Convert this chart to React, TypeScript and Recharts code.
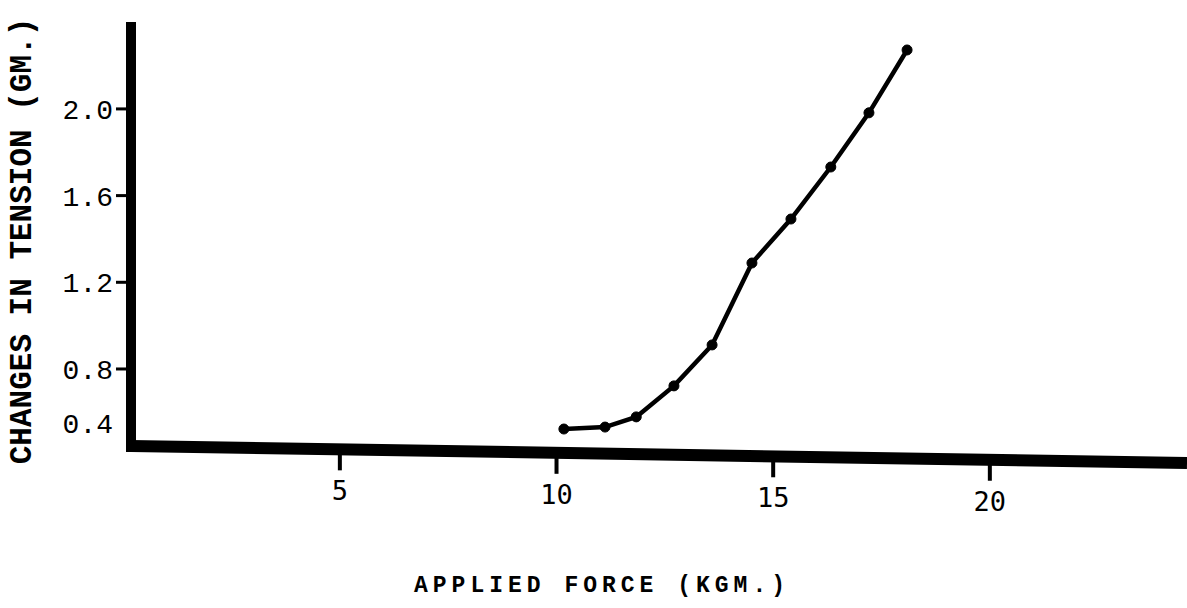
import React from 'react';
import { LineChart, Line, XAxis, YAxis, ReferenceLine } from 'recharts';

const forceKgm = [10.17, 11.12, 11.84, 12.71, 13.59, 14.51, 15.41, 16.33, 17.21, 18.09];
const tensionGm = [0.523, 0.532, 0.579, 0.722, 0.911, 1.289, 1.492, 1.732, 1.982, 2.272];
const xTicks = [5, 10, 15, 20];
const yTickValues = [0.55, 0.8, 1.2, 1.6, 2.0];
const yTickLabels = ['0.4', '0.8', '1.2', '1.6', '2.0'];

const data = forceKgm.map((f, i) => ({ force: f, tension: tensionGm[i] }));

const X_DOMAIN: [number, number] = [0.18, 24.55];
const Y_DOMAIN: [number, number] = [0.44, 2.378];
// the hand-drawn baseline sags slightly towards the right
const BASE_LEFT = 0.445;
const BASE_RIGHT = 0.366;
const SAG = 0.016;

const TYPE = '"Liberation Mono", "Courier New", monospace';

const YTick = (props: any) => {
  const x = Number(props.x);
  const y = Number(props.y);
  const i = yTickValues.indexOf(props.payload.value);
  return (
    <g>
      {i > 0 && <rect x={x + 3} y={y - 1.5} width={16} height={3} fill="#000" />}
      <text x={x} y={y} dy="0.36em" textAnchor="end" fontFamily={TYPE} fontSize={28} fill="#000">
        {yTickLabels[i]}
      </text>
    </g>
  );
};

const XTick = (props: any) => {
  const x = Number(props.x);
  const y = Number(props.y);
  const yc = y - 1 + (x - 131) * SAG;
  return (
    <g>
      <rect x={x - 2} y={yc + 5} width={4} height={16} fill="#000" />
      <text
        x={x}
        y={yc + 51}
        textAnchor="middle"
        fontFamily='"DejaVu Sans Mono", monospace'
        fontSize={27}
        fill="#000"
      >
        {props.payload.value}
      </text>
    </g>
  );
};

const XTitle = (props: any) => {
  const vb = props.viewBox;
  return (
    <text
      x={vb.x + vb.width / 2 - 57}
      y={592}
      textAnchor="middle"
      fontFamily={TYPE}
      fontWeight="bold"
      fontSize={23}
      letterSpacing={5}
      fill="#000"
    >
      APPLIED FORCE (KGM.)
    </text>
  );
};

const YTitle = (props: any) => {
  const vb = props.viewBox;
  const cx = 22;
  const cy = vb.y + vb.height / 2 + 4;
  return (
    <text
      x={cx}
      y={cy}
      transform={`rotate(-90, ${cx}, ${cy})`}
      textAnchor="middle"
      dominantBaseline="central"
      fontFamily={TYPE}
      fontWeight="bold"
      fontSize={31}
      fill="#000"
    >
      CHANGES IN TENSION (GM.)
    </text>
  );
};

export default function App() {
  return (
    <div style={{ position: 'absolute', left: 0, top: 0, width: 1187, height: 608, background: '#fff' }}>
      <LineChart width={1187} height={608} data={data} margin={{ top: 27, right: 0, left: 0, bottom: 0 }}>
        <ReferenceLine
          segment={[
            { x: X_DOMAIN[0], y: BASE_LEFT },
            { x: X_DOMAIN[1], y: BASE_RIGHT },
          ]}
          stroke="#000"
          strokeWidth={12}
          ifOverflow="visible"
        />
        <XAxis
          dataKey="force"
          type="number"
          domain={X_DOMAIN}
          ticks={xTicks}
          allowDataOverflow
          height={161}
          tickSize={0}
          tickMargin={0}
          axisLine={false}
          tickLine={false}
          tick={<XTick />}
          label={{ content: XTitle }}
        />
        <YAxis
          dataKey="tension"
          type="number"
          domain={Y_DOMAIN}
          ticks={yTickValues}
          allowDataOverflow
          width={131}
          tickSize={15}
          tickMargin={3}
          axisLine={{ stroke: '#000', strokeWidth: 10, strokeLinecap: 'square' }}
          tickLine={false}
          tick={<YTick />}
          label={{ content: YTitle }}
        />
        <Line
          type="linear"
          dataKey="tension"
          stroke="#000"
          strokeWidth={4.5}
          dot={{ r: 5, fill: '#000', stroke: '#000', strokeWidth: 1 }}
          activeDot={false}
          isAnimationActive={false}
        />
      </LineChart>
    </div>
  );
}
